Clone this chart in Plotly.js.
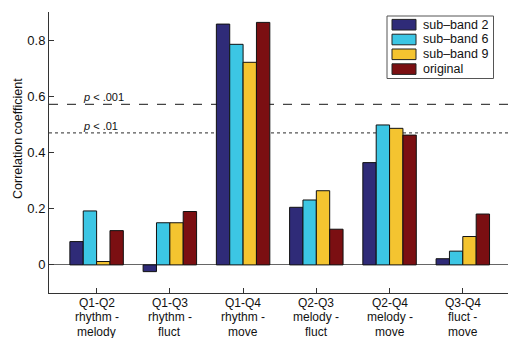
<!DOCTYPE html>
<html>
<head>
<meta charset="utf-8">
<script src="https://cdn.plot.ly/plotly-3.0.1.min.js"></script>
<style>
html,body{margin:0;padding:0;background:#fff;}
#chart{width:508px;height:338px;}
</style>
</head>
<body>
<div id="chart"></div>
<script>
const categories = [1, 2, 3, 4, 5, 6];
const tickLabels = [
  "Q1-Q2<br>rhythm -<br>melody",
  "Q1-Q3<br>rhythm -<br>fluct",
  "Q1-Q4<br>rhythm -<br>move",
  "Q2-Q3<br>melody -<br>fluct",
  "Q2-Q4<br>melody -<br>move",
  "Q3-Q4<br>fluct -<br>move"
];
const subBand2 = [0.083, -0.024, 0.857, 0.205, 0.364, 0.022];
const subBand6 = [0.192, 0.150, 0.785, 0.231, 0.498, 0.049];
const subBand9 = [0.012, 0.150, 0.721, 0.264, 0.486, 0.101];
const original = [0.122, 0.190, 0.863, 0.127, 0.462, 0.181];
const seriesNames = ["sub\u2013band 2", "sub\u2013band 6", "sub\u2013band 9", "original"];
const seriesColors = ["#2f2b78", "#3cc6e4", "#f4c430", "#7b0f12"];
const thresholdP001 = 0.571;
const thresholdP01 = 0.470;
const yTitle = "Correlation coefficient";

const W = 508, H = 338;
const M = {l: 49, r: 0, t: 12, b: 45};
const PW = W - M.l - M.r, PH = H - M.t - M.b;
const px = x => (x - M.l) / PW;          // pixel -> paper x
const py = y => (H - M.b - y) / PH;      // pixel -> paper y

const seriesValues = [subBand2, subBand6, subBand9, original];
const traces = seriesValues.map((vals, i) => ({
  type: "bar",
  x: categories,
  y: vals,
  name: seriesNames[i],
  marker: {color: seriesColors[i], line: {color: "#111", width: 1}},
  hoverinfo: "none",
  showlegend: false
}));

// manual legend (compact like the reference)
const legendShapes = [{
  type: "rect", xref: "paper", yref: "paper",
  x0: px(387), x1: px(493.5), y0: py(16), y1: py(78.5),
  line: {color: "#555", width: 1}, fillcolor: "#fff", layer: "above"
}];
const legendAnnots = [];
seriesNames.forEach((name, i) => {
  const cy = 24.7 + i * 14.8;
  legendShapes.push({
    type: "rect", xref: "paper", yref: "paper",
    x0: px(392), x1: px(416), y0: py(cy - 5.3), y1: py(cy + 5.3),
    line: {color: "#222", width: 1}, fillcolor: seriesColors[i], layer: "above"
  });
  legendAnnots.push({
    xref: "paper", yref: "paper", x: px(421), y: py(cy),
    xanchor: "left", yanchor: "middle", text: name, showarrow: false,
    font: {size: 12.5, color: "#111"}
  });
});

// category labels, one annotation per line for tight line spacing
const tickAnnots = [];
tickLabels.forEach((lab, i) => {
  lab.split("<br>").forEach((line, j) => {
    tickAnnots.push({
      xref: "x", yref: "paper", x: categories[i], y: py(302.5 + j * 14.5),
      xanchor: "center", yanchor: "middle", text: line, showarrow: false,
      font: {size: 12, color: "#111"}
    });
  });
});

const layout = {
  width: W, height: H,
  margin: M,
  paper_bgcolor: "#fff", plot_bgcolor: "#fff",
  barmode: "group",
  bargap: 0.27,
  bargroupgap: 0,
  font: {family: "Liberation Sans, Arial, sans-serif", size: 13, color: "#111"},
  showlegend: false,
  xaxis: {
    range: [0.35, 6.617],
    tickmode: "array", tickvals: categories, showticklabels: false,
    ticks: "inside", ticklen: 5, tickcolor: "#333",
    showline: true, linecolor: "#333", linewidth: 1,
    showgrid: false, zeroline: false
  },
  yaxis: {
    range: [-0.1, 0.9],
    tick0: 0, dtick: 0.2,
    ticks: "inside", ticklen: 5, tickcolor: "#333",
    showline: true, linecolor: "#333", linewidth: 1,
    showgrid: false,
    zeroline: true, zerolinecolor: "#666", zerolinewidth: 1,
    tickfont: {size: 13}
  },
  shapes: [
    {type: "line", xref: "paper", x0: 0, x1: 1, yref: "y", y0: thresholdP001, y1: thresholdP001,
     line: {color: "#444", width: 1.2, dash: "dash"}, layer: "below"},
    {type: "line", xref: "paper", x0: 0, x1: 1, yref: "y", y0: thresholdP01, y1: thresholdP01,
     line: {color: "#555", width: 1.2, dash: "dot"}, layer: "below"}
  ].concat(legendShapes),
  annotations: [
    {xref: "paper", yref: "y", x: 0.07, y: thresholdP001, xanchor: "left", yanchor: "bottom",
     text: "<i>p</i> < .001", showarrow: false, font: {size: 11, color: "#111"}, yshift: -1},
    {xref: "paper", yref: "y", x: 0.07, y: thresholdP01, xanchor: "left", yanchor: "bottom",
     text: "<i>p</i> < .01", showarrow: false, font: {size: 11, color: "#111"}, yshift: -1},
    {xref: "paper", yref: "paper", x: px(18), y: py(139), xanchor: "center", yanchor: "middle",
     text: yTitle, textangle: -90, showarrow: false, font: {size: 12.5, color: "#111"}}
  ].concat(legendAnnots, tickAnnots)
};

Plotly.newPlot("chart", traces, layout, {displayModeBar: false, staticPlot: true});
</script>
</body>
</html>
